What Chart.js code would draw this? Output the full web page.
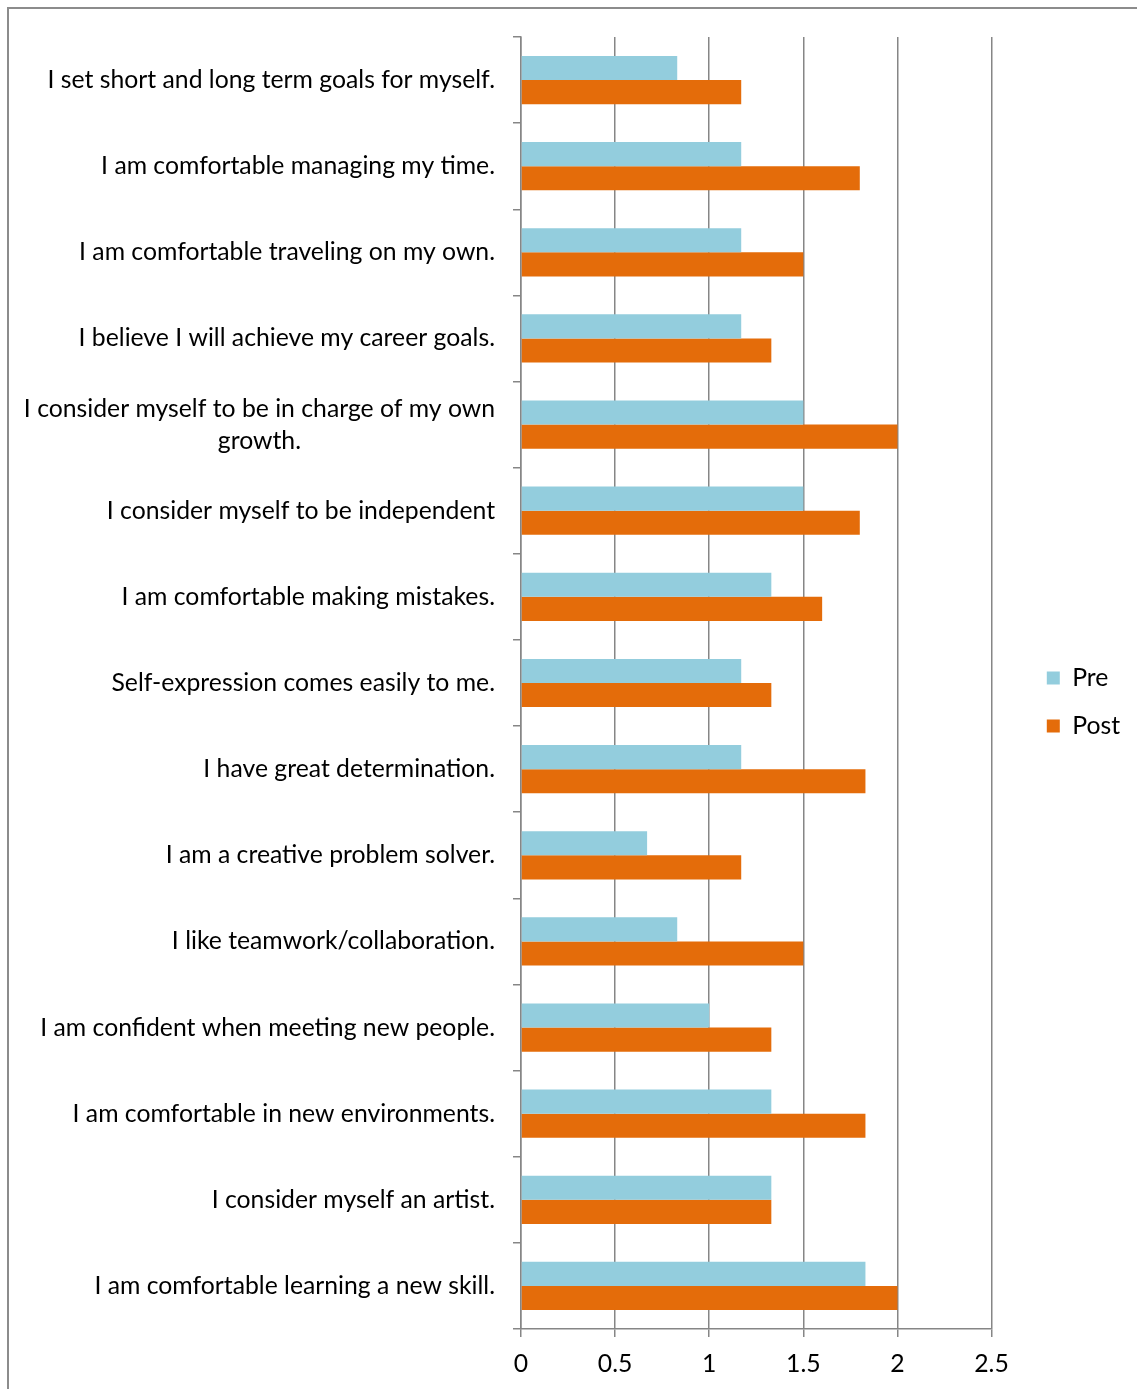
<!DOCTYPE html>
<html>
<head>
<meta charset="utf-8">
<title>Pre / Post self-assessment</title>
<style>
  html, body { margin: 0; padding: 0; background: #ffffff; }
  #wrap { position: relative; width: 1137px; height: 1389px; overflow: hidden; }
  #wrap canvas { position: absolute; left: 0; top: 0; }
  #frame {
    position: absolute; left: 7px; top: 7px; width: 1300px; height: 1500px;
    border-left: 2px solid #8c8c8c; border-top: 2px solid #8c8c8c;
    box-sizing: border-box; pointer-events: none;
  }
</style>
<script src="https://cdn.jsdelivr.net/npm/chart.js@4.4.1/dist/chart.umd.min.js"></script>
</head>
<body>
<div id="wrap">
  <canvas id="chart" width="1137" height="1389"></canvas>
  <div id="frame"></div>
</div>
<script>
// Survey statements (top to bottom); a nested array is a wrapped label
const categories = [
  "I set short and long term goals for myself.",
  "I am comfortable managing my time.",
  "I am comfortable traveling on my own.",
  "I believe I will achieve my career goals.",
  ["I consider myself to be in charge of my own", "growth."],
  "I consider myself to be independent",
  "I am comfortable making mistakes.",
  "Self-expression comes easily to me.",
  "I have great determination.",
  "I am a creative problem solver.",
  "I like teamwork/collaboration.",
  "I am confident when meeting new people.",
  "I am comfortable in new environments.",
  "I consider myself an artist.",
  "I am comfortable learning a new skill."
];

const preValues  = [0.83, 1.17, 1.17, 1.17, 1.5, 1.5, 1.33, 1.17, 1.17, 0.67, 0.83, 1.0, 1.33, 1.33, 1.83];
const postValues = [1.17, 1.8, 1.5, 1.33, 2.0, 1.8, 1.6, 1.33, 1.83, 1.17, 1.5, 1.33, 1.83, 1.33, 2.0];

const xTickValues = [0, 0.5, 1, 1.5, 2, 2.5];

const AXIS_GREY = '#868686';
const FONT_FAMILY = 'Lato, "Open Sans", sans-serif';
const FONT_SIZE = 24.75;
const LABEL_GAP = 26;
const LABEL_LINE_HEIGHT = 32;

// Draws the statement labels to the left of the value axis,
// right-aligned, with wrapped lines centred on their widest line.
const categoryLabels = {
  id: 'categoryLabels',
  afterDraw(chart) {
    const scale = chart.scales.y;
    const ctx = chart.ctx;
    ctx.save();
    ctx.font = FONT_SIZE + 'px ' + FONT_FAMILY;
    ctx.fillStyle = '#000000';
    ctx.textBaseline = 'middle';
    ctx.textAlign = 'center';
    const rightEdge = scale.right - LABEL_GAP;
    categories.forEach((label, i) => {
      const lines = Array.isArray(label) ? label : [label];
      const widest = Math.max(...lines.map(l => ctx.measureText(l).width));
      const cx = rightEdge - widest / 2;
      const cy = scale.getPixelForTick(i);
      lines.forEach((line, k) => {
        ctx.fillText(line, cx, cy + (k - (lines.length - 1) / 2) * LABEL_LINE_HEIGHT);
      });
    });
    ctx.restore();
  }
};

// Keeps the legend a fixed distance to the right of the plot area.
const legendPlacement = {
  id: 'legendPlacement',
  afterLayout(chart, args, opts) {
    const lg = chart.legend;
    if (!lg) return;
    const left = chart.chartArea.right + opts.offsetX;
    lg.left = left;
    lg.right = left + lg.width;
    lg.top += opts.offsetY;
    lg.bottom += opts.offsetY;
  }
};

new Chart(document.getElementById('chart'), {
  type: 'bar',
  data: {
    labels: categories,
    datasets: [
      { label: 'Pre',  data: preValues,  backgroundColor: '#93CDDD', borderWidth: 0 },
      { label: 'Post', data: postValues, backgroundColor: '#E46C0A', borderWidth: 0 }
    ]
  },
  plugins: [categoryLabels, legendPlacement],
  options: {
    indexAxis: 'y',
    responsive: false,
    animation: false,
    devicePixelRatio: 1,
    categoryPercentage: 0.56,
    barPercentage: 1.0,
    layout: { padding: { left: 0, top: 37, right: 39, bottom: 0 } },
    font: { family: FONT_FAMILY, size: FONT_SIZE },
    scales: {
      x: {
        type: 'linear',
        min: 0,
        max: 2.5,
        afterBuildTicks(scale) {
          scale.ticks = xTickValues.map(v => ({ value: v }));
        },
        afterFit(scale) { scale.height = 60; },
        ticks: {
          color: '#000000',
          padding: 12,
          font: { family: FONT_FAMILY, size: FONT_SIZE },
          callback: v => String(v)
        },
        grid: {
          color: AXIS_GREY,
          lineWidth: 1.5,
          tickLength: 8,
          drawTicks: true
        },
        border: { display: true, color: AXIS_GREY, width: 1.5 }
      },
      y: {
        type: 'category',
        afterFit(scale) { scale.width = 521; },
        ticks: { display: false },
        grid: {
          offset: true,
          drawOnChartArea: false,
          drawTicks: true,
          tickLength: 8,
          color: AXIS_GREY,
          lineWidth: 1.5
        },
        border: { display: true, color: AXIS_GREY, width: 1.5 }
      }
    },
    plugins: {
      legend: {
        position: 'right',
        align: 'center',
        labels: {
          boxWidth: 13,
          boxHeight: 13,
          padding: 23.25,
          color: '#000000',
          font: { family: FONT_FAMILY, size: FONT_SIZE }
        }
      },
      legendPlacement: { offsetX: 32, offsetY: -11 },
      tooltip: { enabled: false }
    }
  }
});
</script>
</body>
</html>
